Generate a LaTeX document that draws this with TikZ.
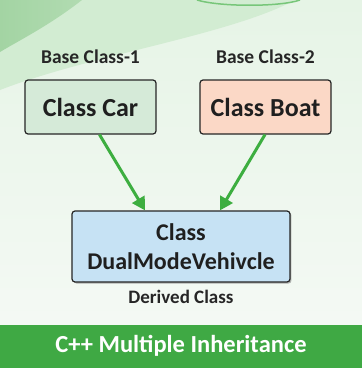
\documentclass[tikz,border=0pt]{standalone}
\usepackage{fontspec}
\setmainfont{Carlito}
\usetikzlibrary{arrows.meta,positioning,calc,shadows}

\definecolor{bgtop}{HTML}{E6F4E6}
\definecolor{bgbot}{HTML}{F6FAF6}
\definecolor{swoosh}{HTML}{D2ECD2}
\definecolor{leafgreen}{HTML}{A3D4A3}
\definecolor{cargreen}{HTML}{D5EAD8}
\definecolor{boatpeach}{HTML}{FBD8C6}
\definecolor{dualblue}{HTML}{C6E2F4}
\definecolor{bargreen}{HTML}{3FA944}
\definecolor{linkgreen}{HTML}{3DAE40}

\begin{document}
\begin{tikzpicture}[
    x=1pt, y=1pt,
    classbox/.style={draw=black!85, line width=1.2pt, rounded corners=3pt, minimum width=131pt, minimum height=54pt, font=\bfseries\fontsize{26}{28}\selectfont, text=black!88},
    caption/.style={font=\bfseries\fontsize{19.5}{22}\selectfont, text=black!85},
    link/.style={linkgreen, line width=3pt, -{Triangle[length=13pt, width=14pt]}}
  ]
  % background
  \useasboundingbox (0,0) rectangle (362,368);
  \shade[top color=bgtop, bottom color=bgbot] (0,0) rectangle (362,368);
  \fill[swoosh] (0,368) -- (0,278) .. controls (90,313) and (230,333) .. (295,368) -- cycle;
  \shade[left color=leafgreen, right color=leafgreen!70!swoosh] (0,368) -- (82,368) .. controls (50,343) and (20,328) .. (0,316) -- cycle;
  \draw[linkgreen!70, line width=1.5pt] (197,368) .. controls (220,361) and (280,361) .. (300,368);

  % classes
  \node[classbox, fill=cargreen] (car) at (90.5,261) {Class Car};
  \node[classbox, fill=boatpeach] (boat) at (265.5,261) {Class Boat};
  \node[classbox, fill=dualblue, minimum width=218pt, minimum height=71pt, align=center,
        font=\bfseries\fontsize{24}{26}\selectfont,
        drop shadow={shadow xshift=1.5pt, shadow yshift=-1.5pt, opacity=0.6}] (dual) at (181,121.5)
        {Class\\[3pt]DualModeVehivcle};

  \node[caption] (base1) at (90.5,311) {Base Class-1};
  \node[caption] (base2) at (265.5,311) {Base Class-2};
  \node[caption, font=\bfseries\fontsize{19}{22}\selectfont] (derived) at (181,71) {Derived Class};

  \draw[link] ($(car.south)+(9,0)$) -- ($(dual.north)+(-36,0)$);
  \draw[link] ($(boat.south)+(-0.5,0)$) -- ($(dual.north)+(39,0)$);

  % title bar
  \fill[bargreen] (0,0) rectangle (362,43);
  \node[font=\bfseries\fontsize{24.5}{27}\selectfont, text=white] (title) at (181,22.5) {C++ Multiple Inheritance};
\end{tikzpicture}
\end{document}
